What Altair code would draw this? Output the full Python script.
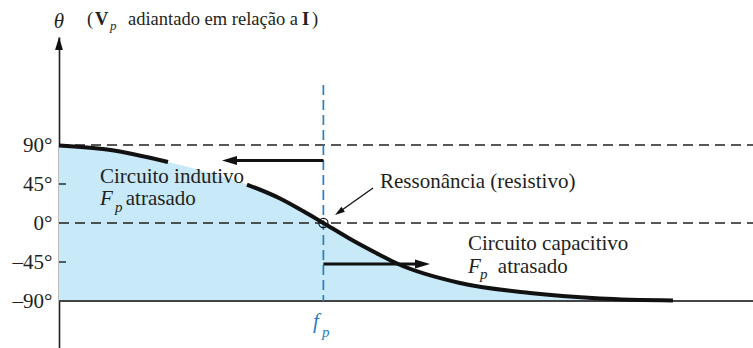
import math
import altair as alt
import pandas as pd

# ---- data -------------------------------------------------------------
# phase angle of the parallel resonant circuit vs. frequency (f_p = 4)
freq = [0.0, 0.726, 1.649, 2.239, 2.844, 3.344, 3.692, 4.0, 4.393, 4.857, 5.114, 6.067, 7.126, 8.185, 9.289]
theta = [89.4, 84.8, 70.4, 58.8, 44.4, 28.3, 13.8, 0.0, -17.9, -36.9, -46.7, -69.2, -80.8, -87.1, -89.4]
# the stroke of the curve is interrupted behind the "Circuito indutivo" label
stroke_part = ["a", "a", "a", None, "b", "b", "b", "b", "b", "b", "b", "b", "b", "b", "b"]

f_res = 4.0
tick_values = [90, 45, 0, -45, -90]
ref_lines = [90, 0]          # dashed guides
floor_deg = -90              # solid base line

X_DOMAIN = [0, 10.5]
Y_DOMAIN = [-144.2, 214.6]
W, H = 694, 311

FONT = "Liberation Serif"
INK = "#231f20"
BLUE = "#2a7fc2"
FILL = "#c8e9f8"

# ---- encodings ----------------------------------------------------------
yaxis = alt.Axis(
    values=tick_values,
    labelExpr="(datum.value < 0 ? '\u2013' + abs(datum.value) : datum.value) + '\u00b0'",
    ticks=False, grid=False, domain=True, domainColor=INK, domainWidth=1.6,
    labelFont=FONT, labelFontSize=21, labelColor=INK, labelPadding=7,
    labelBaseline="middle", labelFlush=False, labelOverlap=False, title=None,
)


def X(field):
    return alt.X(f"{field}:Q", scale=alt.Scale(domain=X_DOMAIN, nice=False, zero=False), axis=None, title=None)


def Y(field):
    return alt.Y(f"{field}:Q", scale=alt.Scale(domain=Y_DOMAIN, nice=False, zero=False), axis=yaxis, title=None)


def X2(field):
    return alt.X2(f"{field}:Q")


def Y2(field):
    return alt.Y2(f"{field}:Q")


curve = pd.DataFrame({"f": freq, "deg": theta, "part": stroke_part})
curve["base"] = floor_deg

area = alt.Chart(curve).mark_area(color=FILL, interpolate="monotone").encode(
    x=X("f"), y=Y("deg"), y2=Y2("base")
)

stroke = alt.Chart(curve.dropna(subset=["part"])).mark_line(
    color="#111111", strokeWidth=4, interpolate="monotone", strokeCap="butt"
).encode(x=X("f"), y=Y("deg"), detail="part:N")

guides = alt.Chart(pd.DataFrame({"deg": ref_lines, "f": 0.0, "f2": X_DOMAIN[1]})).mark_rule(
    color=INK, strokeWidth=1.4, strokeDash=[10, 6]
).encode(x=X("f"), x2=X2("f2"), y=Y("deg"))

floor = alt.Chart(pd.DataFrame({"deg": [floor_deg], "f": [0.0], "f2": [X_DOMAIN[1]]})).mark_rule(
    color="#444444", strokeWidth=2
).encode(x=X("f"), x2=X2("f2"), y=Y("deg"))

res_line = alt.Chart(pd.DataFrame({"f": [f_res], "deg": [159.2], "deg2": [floor_deg]})).mark_rule(
    color=BLUE, strokeWidth=1.7, strokeDash=[10, 5]
).encode(x=X("f"), y=Y("deg"), y2=Y2("deg2"))

# ---- arrows -------------------------------------------------------------
px_x = W / (X_DOMAIN[1] - X_DOMAIN[0])
px_y = H / (Y_DOMAIN[1] - Y_DOMAIN[0])


def arrow(start, tip, head_len, back, width):
    """shaft from start to a point `back` px before the tip, plus head spec"""
    dx = (tip[0] - start[0]) * px_x
    dy = -(tip[1] - start[1]) * px_y
    n = math.hypot(dx, dy)
    ux, uy = dx / n, dy / n
    end = (tip[0] - ux * back / px_x, tip[1] + uy * back / px_y)
    ang = math.degrees(math.atan2(dx, -dy)) % 360
    shaft = {"f": start[0], "deg": start[1], "f2": end[0], "deg2": end[1], "w": width}
    head = {"f": tip[0], "deg": tip[1], "ang": ang, "size": (2 * head_len) ** 2}
    return shaft, head


specs = [
    ((f_res, 72.1), (2.466, 72.1), 15, 10, 3.0),      # inductive side
    ((f_res, -47.3), (5.613, -47.3), 15, 10, 3.0),    # capacitive side
    ((4.751, 40.4), (4.176, 9.2), 10, 6, 1.3),        # resonance pointer
]
shafts, heads = [], []
for s, t, hl, b, w in specs:
    sh, hd = arrow(s, t, hl, b, w)
    shafts.append(sh)
    heads.append(hd)

# inward ticks on the vertical axis
for v in (45, -45):
    shafts.append({"f": 0.0, "deg": v, "f2": 0.106, "deg2": v, "w": 1.3})

# arrowhead on top of the vertical axis
heads.append({"f": 0.0, "deg": Y_DOMAIN[1], "ang": 0.0, "size": (2 * 13) ** 2})

shaft_layer = alt.Chart(pd.DataFrame(shafts)).mark_rule(color="#111111", strokeCap="butt").encode(
    x=X("f"), y=Y("deg"), x2=X2("f2"), y2=Y2("deg2"),
    strokeWidth=alt.StrokeWidth("w:Q", scale=None, legend=None),
)

head_layer = alt.Chart(pd.DataFrame(heads)).mark_point(
    shape="M0,0L0.3,1L-0.3,1Z", filled=True, color="#111111", opacity=1, strokeWidth=0
).encode(
    x=X("f"), y=Y("deg"),
    angle=alt.Angle("ang:Q", scale=None),
    size=alt.Size("size:Q", scale=None, legend=None),
)

marker = alt.Chart(pd.DataFrame({"f": [f_res], "deg": [0.0]})).mark_point(
    shape="circle", filled=False, color="#111111", size=85, strokeWidth=1.2, opacity=1
).encode(x=X("f"), y=Y("deg"))

# ---- text ---------------------------------------------------------------
styles = {
    "theta": dict(fontSize=21, fontStyle="italic", color=INK, align="center"),
    "title": dict(fontSize=18.5, color=INK, align="left"),
    "title_bold": dict(fontSize=18.5, fontWeight="bold", color=INK, align="left"),
    "title_sub": dict(fontSize=13, fontStyle="italic", color=INK, align="left"),
    "roman": dict(fontSize=21, color=INK, align="left"),
    "italic": dict(fontSize=21, fontStyle="italic", color=INK, align="left"),
    "sub": dict(fontSize=15, fontStyle="italic", color=INK, align="left"),
    "fp": dict(fontSize=21, fontStyle="italic", color=BLUE, align="left"),
    "fp_sub": dict(fontSize=15, fontStyle="italic", color=BLUE, align="left"),
}

label_text = ["\u03b8", "(", "V", "p", "adiantado em rela\u00e7\u00e3o a", "I", ")",
              "Circuito indutivo", "F", "p", "atrasado",
              "Resson\u00e2ncia (resistivo)",
              "Circuito capacitivo", "F", "p", "atrasado",
              "f", "p"]
label_f = [0.0, 0.424, 0.545, 0.772, 1.044, 3.676, 3.828,
           0.62, 0.62, 0.847, 1.01,
           4.857,
           6.188, 6.188, 6.37, 6.64,
           3.843, 3.979]
label_deg = [225.0, 228.5, 228.5, 222.7, 228.5, 228.5, 228.5,
             46.2, 20.8, 13.0, 20.8,
             40.4,
             -31.2, -57.7, -64.6, -57.7,
             -121.7, -131.2]
label_style = ["theta", "title", "title_bold", "title_sub", "title", "title_bold", "title",
               "roman", "italic", "sub", "roman",
               "roman",
               "roman", "italic", "sub", "roman",
               "fp", "fp_sub"]

labels = pd.DataFrame({"f": label_f, "deg": label_deg, "txt": label_text, "style": label_style})

text_layers = []
for name, st in styles.items():
    sub = labels[labels["style"] == name]
    if sub.empty:
        continue
    text_layers.append(
        alt.Chart(sub).mark_text(font=FONT, baseline="alphabetic", **st).encode(
            x=X("f"), y=Y("deg"), text="txt:N"
        )
    )

chart = alt.layer(
    area, guides, floor, res_line, stroke, shaft_layer, head_layer, marker, *text_layers
).properties(
    width=W, height=H,
    autosize=alt.AutoSizeParams(type="none"),
    padding={"left": 59, "top": 37, "right": 0, "bottom": 0},
    background="white",
).configure(font=FONT).configure_view(stroke=None)

chart.save("out.html", embed_options={"renderer": "svg", "actions": False})
